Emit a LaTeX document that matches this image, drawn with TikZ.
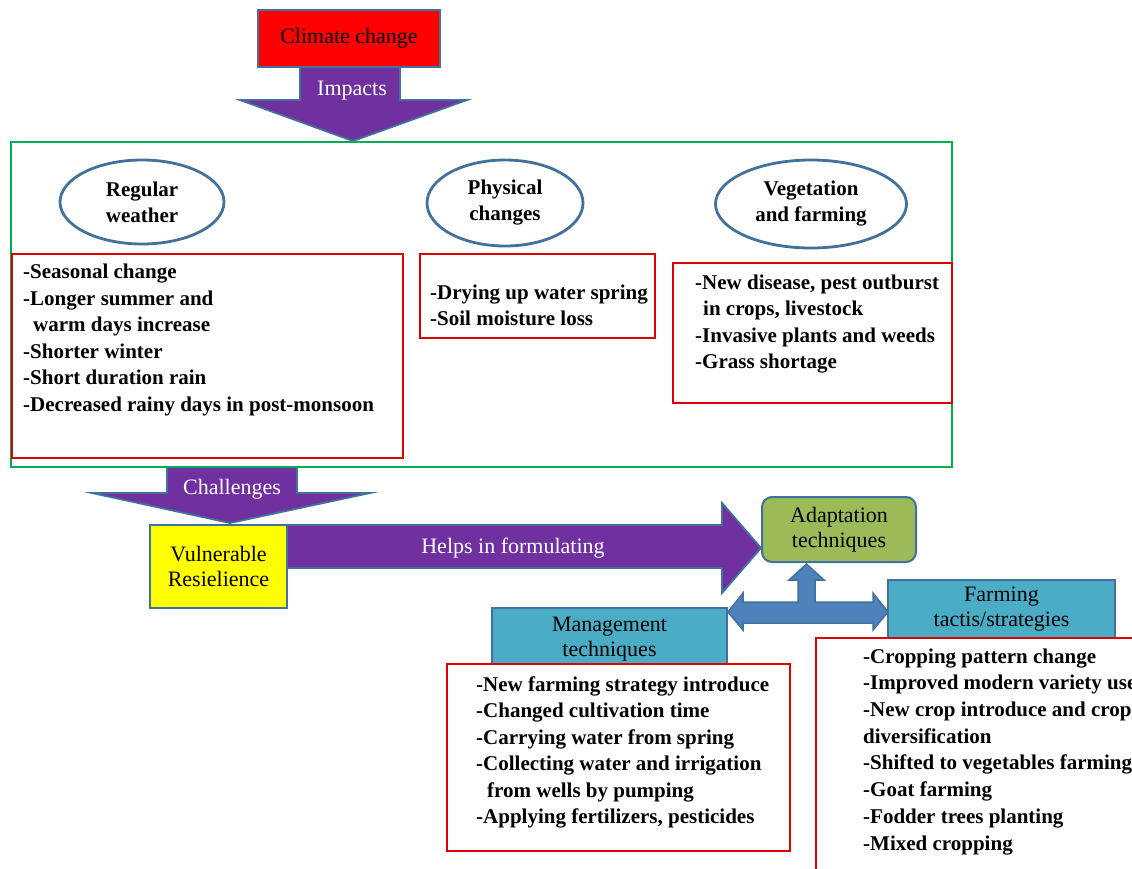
\documentclass[tikz,border=0pt]{standalone}
\usepackage{fontspec}
\setmainfont{Liberation Serif}
\usetikzlibrary{shapes.geometric}
\definecolor{purp}{HTML}{7030A0}
\definecolor{outl}{HTML}{41719C}
\definecolor{grn}{HTML}{00B050}
\definecolor{redl}{HTML}{DD0000}
\definecolor{redf}{HTML}{FF0000}
\definecolor{yel}{HTML}{FFFF00}
\definecolor{teal}{HTML}{4BACC6}
\definecolor{olive}{HTML}{9BBB59}
\definecolor{barrow}{HTML}{4F81BD}
\begin{document}
\begin{tikzpicture}[x=1pt,y=-1pt,
  lbl/.style={font=\fontsize{22}{25}\selectfont, align=center, inner sep=0pt},
  box/.style={lbl, draw=outl, line width=2pt, minimum width=#1},
  bigarrow/.style={fill=purp, draw=outl, line width=1.8pt, line join=miter},
  oval/.style={ellipse, draw=outl, line width=2.8pt, inner sep=0pt, align=center,
     font=\bfseries\fontsize{21}{26}\selectfont},
  redbox/.style={draw=redl, line width=2.5pt},
  listtext/.style={font=\bfseries\fontsize{21}{26.5}\selectfont, align=left, anchor=base west, inner sep=0pt},
  whitetext/.style={lbl, text=white}]
\useasboundingbox (0,0) rectangle (1132,868);
\clip (0,0) rectangle (1132,868);

% Impacts arrow
\draw[bigarrow] (300,66) -- (400,66) -- (400,100) -- (467,100) -- (353,141)
   -- (240,100) -- (300,100) -- cycle;
\node[whitetext] (impacts) at (352,91) {Impacts};
\node[box=182pt, minimum height=57pt, fill=redf] (climate) at (349,38.5) {Climate change};

% Challenges arrow
\draw[bigarrow] (167,467) -- (297,467) -- (297,493) -- (370,493) -- (230,523)
   -- (92,493) -- (167,493) -- cycle;
\node[whitetext] (challenges) at (232,489) {Challenges};

% green frame
\draw[grn, line width=2.5pt] (11,142) rectangle (952,467);

% ellipses
\node[oval, minimum width=164pt, minimum height=84pt] (regular) at (142,202) {Regular\\weather};
\node[oval, minimum width=156pt, minimum height=86pt] (physical) at (505,203) {Physical\\changes};
\node[oval, minimum width=191pt, minimum height=88pt] (vegetation) at (811,204) {Vegetation\\and farming};

% red list boxes (top); text anchored at the baseline of its last line
\draw[redbox] (12,254) rectangle (403,458);
\node[listtext] (reglist) at (23,411) {-Seasonal change\\-Longer summer and\\\hspace*{10pt}warm days increase\\-Shorter winter\\-Short duration rain\\-Decreased rainy days in post-monsoon};
\draw[redbox] (420,254) rectangle (655,338);
\node[listtext] (phylist) at (430,325.5) {-Drying up water spring\\-Soil moisture loss};
\draw[redbox] (673,263) rectangle (952,403);
\node[listtext] (veglist) at (695,368.5) {-New disease, pest outburst\\\hspace*{8pt}in crops, livestock\\-Invasive plants and weeds\\-Grass shortage};

% Helps in formulating arrow
\draw[bigarrow] (287,525) -- (722,525) -- (722,503) -- (761,548) -- (722,593)
   -- (722,568) -- (287,568) -- cycle;
\node[whitetext] (helps) at (513,548) {Helps in formulating};
\node[box=137pt, minimum height=83pt, fill=yel] (vulnerable) at (218.5,566.5) {Vulnerable\\Resielience};

% Adaptation
\node[box=154pt, minimum height=65pt, fill=olive, rounded corners=10pt] (adapt) at (839,529.5) {Adaptation\\techniques};

% three-way arrow
\draw[fill=barrow, draw=outl, line width=1.5pt, line join=miter]
  (728,612) -- (743,593) -- (743,602) -- (798,602) -- (798,580) -- (789,580)
  -- (806.5,564) -- (824,580) -- (815,580) -- (815,602) -- (873,602) -- (873,593)
  -- (888,612) -- (873,630) -- (873,623) -- (743,623) -- (743,630) -- cycle;

% Management / Farming boxes
\node[box=235pt, minimum height=62pt, fill=teal] (manage) at (609.5,639) {Management\\techniques};
\node[box=227pt, minimum height=58pt, fill=teal] (farming) at (1001.5,609) {Farming\\tactis/strategies};

% bottom list boxes
\draw[redbox, fill=white] (447,664) rectangle (790,851);
\node[listtext] (managelist) at (476,823.5) {-New farming strategy introduce\\-Changed cultivation time\\-Carrying water from spring\\-Collecting water and irrigation\\\hspace*{11pt}from wells by pumping\\-Applying fertilizers, pesticides};
\draw[redbox, fill=white] (816,638) rectangle (1150,890);
\node[listtext, font=\bfseries\fontsize{21}{26.7}\selectfont] (farmlist) at (863,850) {-Cropping pattern change\\-Improved modern variety use\\-New crop introduce and crop\\diversification\\-Shifted to vegetables farming\\-Goat farming\\-Fodder trees planting\\-Mixed cropping};
\end{tikzpicture}
\end{document}
